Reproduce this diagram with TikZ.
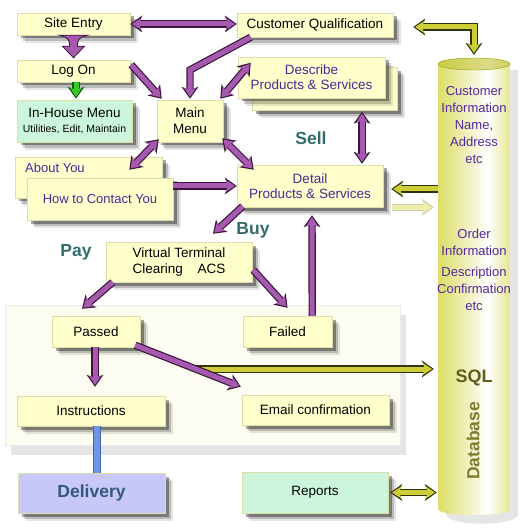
\documentclass[tikz,border=0pt]{standalone}
\usepackage{fontspec}
\setmainfont{Liberation Sans}
\usetikzlibrary{arrows.meta,shadows,calc}
\definecolor{boxy}{RGB}{255,255,204}
\definecolor{boxline}{RGB}{222,222,170}
\definecolor{mint}{RGB}{204,246,220}
\definecolor{lav}{RGB}{200,200,248}
\definecolor{pfill}{RGB}{165,90,175}
\definecolor{pdark}{RGB}{60,20,60}
\definecolor{yfill}{RGB}{205,205,55}
\definecolor{ydark}{RGB}{50,50,10}
\definecolor{gfill}{RGB}{60,200,40}
\definecolor{gdark}{RGB}{20,90,20}
\definecolor{palef}{RGB}{240,236,170}
\definecolor{palel}{RGB}{205,205,175}
\definecolor{ptext}{RGB}{75,40,150}
\definecolor{dbtext}{RGB}{85,40,160}
\definecolor{tealc}{RGB}{50,108,108}
\definecolor{delc}{RGB}{50,90,120}
\definecolor{sqlc}{RGB}{95,95,30}
\definecolor{dbc}{RGB}{125,125,45}
\definecolor{dbA}{RGB}{190,190,40}
\definecolor{dbB}{RGB}{218,218,90}
\definecolor{panelc}{RGB}{252,252,240}
\definecolor{bluebar}{RGB}{110,150,230}
\definecolor{bluedark}{RGB}{70,100,180}
\pgfdeclarehorizontalshading{dbshade}{100bp}{color(0bp)=(dbA); color(22bp)=(dbB); color(60bp)=(white); color(82bp)=(dbB); color(100bp)=(dbA)}
\newcommand\fnmain{\fontsize{13.5}{16}\selectfont}
\newcommand\fnsmall{\fontsize{10.5}{13}\selectfont}
\newcommand\fnbig{\fontsize{17.5}{20}\selectfont\bfseries}
\tikzset{
  otip/.tip={Stealth[length=12pt,width=17pt,inset=3.5pt,line width=0pt]},
  itip/.tip={Stealth[length=9.5pt,width=12.5pt,inset=2.6pt,line width=0pt]},
  arrone/.style 2 args={draw=#1, line width=5pt, -itip, shorten >=1.8pt,
     preaction={draw=#2, line width=7.4pt, -otip, shorten >=0pt}},
  arrtwo/.style 2 args={draw=#1, line width=5pt, itip-itip, shorten >=1.8pt, shorten <=1.8pt,
     preaction={draw=#2, line width=7.4pt, otip-otip, shorten >=0pt, shorten <=0pt}},
  pa/.style={arrone={pfill}{pdark}},
  pb/.style={arrtwo={pfill}{pdark}},
  ya/.style={arrone={yfill}{ydark}},
  yb/.style={arrtwo={yfill}{ydark}},
  ga/.style={arrone={gfill}{gdark}},
  pale/.style={arrone={palef}{palel}},
  sh/.style={drop shadow={shadow xshift=8pt,shadow yshift=-8pt,opacity=.10,fill=black},
             drop shadow={shadow xshift=6pt,shadow yshift=-6pt,opacity=.18,fill=black},
             drop shadow={shadow xshift=3.5pt,shadow yshift=-3.5pt,opacity=.35,fill=black}},
  box/.style={draw=boxline, line width=0.5pt, fill=boxy, inner sep=0pt, align=center, font=\fnmain, sh},
  lab/.style={font=\fnbig, text=tealc, inner sep=0pt},
}
\begin{document}
\begin{tikzpicture}[x=1pt,y=-1pt]
\useasboundingbox (0,0) rectangle (520,529);
\fill[white] (0,0) rectangle (520,529);

% panel
\node[fill=panelc, draw=black!8, minimum width=395, minimum height=140, inner sep=0,
      drop shadow={shadow xshift=6pt,shadow yshift=-10pt,opacity=.10,fill=black}] (pn) at (202.5,375) {};

% database cylinder
\node[minimum width=72, minimum height=457, inner sep=0] (db) at (474,286.5) {};
\fill[black, opacity=.10] (446,70) -- (446,514) .. controls (446,527) and (518,527) .. (518,514) -- (518,70) -- cycle;
\shade[shading=dbshade] (438,64) -- (438,509) .. controls (438,517) and (510,517) .. (510,509) -- (510,64) .. controls (510,56) and (438,56) .. (438,64) -- cycle;
\shade[shading=dbshade] (474,64) ellipse [x radius=36, y radius=6];
\filldraw[fill=dbA, fill opacity=.55, draw=dbA!80!black, line width=0.4pt] (474,64) ellipse [x radius=36, y radius=6];
\node[font=\fontsize{13}{17}\selectfont, text=dbtext, align=center, inner sep=0] (dbt1) at (474,125) {Customer\\Information\\Name,\\Address\\etc};
\node[font=\fontsize{13}{17}\selectfont, text=dbtext, align=center, inner sep=0] (dbt2) at (474,270) {Order\\Information\\[4pt]Description\\Confirmation\\etc};
\node[font=\fontsize{18}{20}\selectfont\bfseries, text=sqlc, inner sep=0] (sql) at (474,378) {SQL};
\node[font=\fontsize{17.5}{20}\selectfont\bfseries, text=dbc, inner sep=0, rotate=90] (dbn) at (473,441) {Database};

% boxes
\node[box, minimum width=113, minimum height=22] (se) at (73.5,24) {Site Entry};
\node[box, minimum width=156, minimum height=24] (cq) at (315,25) {Customer Qualification};
\node[box, minimum width=113, minimum height=22] (lo) at (73.5,71) {Log On};
\node[box, fill=mint, minimum width=115, minimum height=42] (ih) at (74.5,121) {In-House Menu\\[-1pt]{\fnsmall Utilities, Edit, Maintain}};
\node[box, minimum width=66, minimum height=42] (mm) at (190,121) {Main\\Menu};
\node[box, minimum width=145, minimum height=43] (dsb) at (324.5,89) {};
\node[box, minimum width=147, minimum height=41, text=ptext, font=\fontsize{13.5}{15}\selectfont] (ds) at (311.5,77.5) {Describe\\Products \& Services};
\node[box, minimum width=146, minimum height=42, text=ptext, font=\fontsize{13.5}{15}\selectfont] (dt) at (310,186) {Detail\\Products \& Services};
\node[box, minimum width=147, minimum height=41] (ab) at (88.5,177.5) {};
\node[font=\fontsize{13}{15}\selectfont, text=ptext, anchor=west, inner sep=0] (abt) at (25,168) {About You};
\node[box, minimum width=146, minimum height=42, text=ptext, font=\fontsize{13}{15}\selectfont] (hc) at (100,199) {How to Contact You};
\node[box, minimum width=146, minimum height=40, font=\fontsize{13.5}{16.5}\selectfont] (vt) at (179,262) {Virtual Terminal\\Clearing\hspace{1.1em}ACS};
\node[box, minimum width=88, minimum height=31] (ps) at (96,331.5) {Passed};
\node[box, minimum width=89, minimum height=31] (fl) at (287.5,331.5) {Failed};
\node[box, minimum width=148, minimum height=30] (ins) at (91,411) {Instructions};
\node[box, minimum width=147, minimum height=30] (em) at (315.5,410) {Email confirmation};
\node[box, fill=lav, minimum width=147, minimum height=40, font=\fnbig, text=delc] (dl) at (91.5,493) {Delivery};
\node[box, fill=mint, minimum width=146, minimum height=41] (rp) at (315,492.5) {Reports};

% labels
\node[lab] (sell) at (311,138) {Sell};
\node[lab] (buy) at (253,230) {Buy};
\node[lab] (pay) at (76,252) {Pay};

% blue bar
\draw[line width=7.5pt, draw=bluedark] ($(ins.south)+(6,0)$) -- ($(dl.north)+(5.5,0)$);
\draw[line width=5.5pt, draw=bluebar] ($(ins.south)+(6,0)$) -- ($(dl.north)+(5.5,0)$);

% funnel Site Entry -> Log On
\filldraw[fill=pfill, draw=pdark, line width=0.8pt]
  ($(se.south)+(-14,0)$) .. controls ($(se.south)+(-4,2)$) and ($(se.south)+(-4,6)$) .. ($(se.south)+(-4,11)$)
  -- ($(se.south)+(-11,11)$) -- ($(lo.north)+(0,-2)$) -- ($(se.south)+(11,11)$) -- ($(se.south)+(4,11)$)
  .. controls ($(se.south)+(4,6)$) and ($(se.south)+(4,2)$) .. ($(se.south)+(14,0)$) -- cycle;

% purple arrows
\draw[pb] (se.east) -- (se.east -| cq.west);
\draw[ga] ($(lo.south)+(2.5,0)$) -- ($(ih.north)+(1.5,-1)$);
\draw[pa] ($(lo.north east)+(1,5)$) -- ($(mm.north west)+(5,-1)$);
\coordinate (b1) at (190,70);
\draw[pa] ($(cq.south west)+(14,0)$) -- (b1) -- ($(mm.north)+(0,-1)$);
\draw[pb] ($(mm.north east)+(-3,-1)$) -- ($(ds.north west)+(13,6)$);
\draw[pb] ($(mm.south west)+(2,-3)$) -- ($(ab.north east)+(-33,13)$);
\draw[pb] ($(mm.south east)+(-1,-4)$) -- ($(dt.north west)+(17,5)$);
\draw[pa] (hc.east |- dt.west) -- (dt.west);
\draw[pb] ($(dsb.south)+(37.5,1)$) -- ($(dt.north)+(52,-1)$);
\draw[pa] ($(dt.south west)+(6,-1)$) -- ($(vt.north)+(34,-8)$);
\draw[pa] ($(vt.south west)+(7,0)$) -- ($(ps.north)+(-14,-7)$);
\draw[pa] ($(vt.east)+(1,8)$) -- ($(fl.north)+(0,-8)$);
\draw[pa] ($(fl.north east)+(-20,0)$) -- ($(dt.south)+(2,8)$);

% yellow long arrow (under purple)
\coordinate (ys) at (196,369);
\draw[ya] (ys) -- ($(db.west |- ys)+(-4,0)$);
\draw[pa] ($(ps.south)+(-1,0)$) -- ($(ins.north)+(4,-9)$);
\draw[pa] ($(ps.south east)+(-5,-2)$) -- ($(em.north west)+(-1,-8)$);

% yellow arrows
\draw[yb] ($(rp.east)+(2,0)$) -- ($(db.west |- rp.east)+(-1,0)$);
\draw[ya] ($(db.west |- dt.east)+(0,3)$) -- ($(dt.east)+(8,3)$);
\draw[pale] ($(dt.south east)+(9,0)$) -- ($(db.west |- dt.south east)+(-4,0)$);
\coordinate (b2) at (474,27);
\draw[yb] ($(cq.east)+(20,2)$) -- (b2) -- ($(db.north)+(0,-3)$);
\end{tikzpicture}
\end{document}
